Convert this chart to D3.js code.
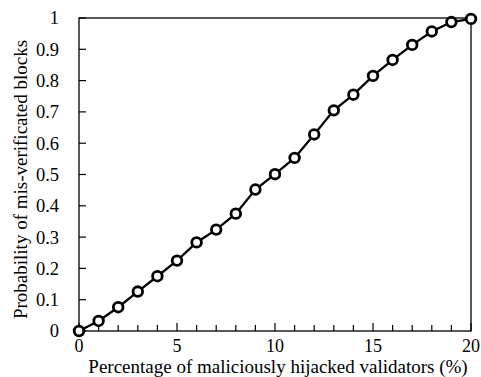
<!DOCTYPE html>
<html>
<head>
<meta charset="utf-8">
<script src="https://cdn.jsdelivr.net/npm/d3@7"></script>
<style>
  html, body { margin: 0; padding: 0; background: #fff; }
</style>
</head>
<body>
<div id="chart"></div>
<script>
// percentage of hijacked validators
const percentages = [0, 1, 2, 3, 4, 5, 6, 7, 8, 9, 10, 11, 12, 13, 14, 15, 16, 17, 18, 19, 20];
// probability of mis-verificated blocks
const probabilities = [0, 0.032, 0.076, 0.126, 0.175, 0.225, 0.283, 0.324, 0.375, 0.452, 0.501, 0.553, 0.628, 0.705, 0.755, 0.815, 0.866, 0.914, 0.957, 0.987, 0.997];
const xTicks = [0, 5, 10, 15, 20];
const yTicks = [0, 0.1, 0.2, 0.3, 0.4, 0.5, 0.6, 0.7, 0.8, 0.9, 1];

const width = 481, height = 377;
const margin = {top: 18, right: 10, bottom: 46, left: 79};
const serif = "'Liberation Serif', 'Times New Roman', Times, 'DejaVu Serif', serif";

const svg = d3.select("#chart").append("svg")
    .attr("width", width)
    .attr("height", height)
    .attr("font-family", serif);

const x = d3.scaleLinear().domain([0, 20]).range([margin.left, width - margin.right]);
const y = d3.scaleLinear().domain([0, 1]).range([height - margin.bottom, margin.top]);

// frame
svg.append("rect")
    .attr("x", x(0)).attr("y", y(1))
    .attr("width", x(20) - x(0)).attr("height", y(0) - y(1))
    .attr("fill", "none").attr("stroke", "#000").attr("stroke-width", 1.3);

// x axis: minor ticks every 1, inward
const xAxis = svg.append("g");
xAxis.selectAll("line")
    .data(d3.range(0, 21))
    .enter().append("line")
    .attr("x1", d => x(d)).attr("x2", d => x(d))
    .attr("y1", y(0))
    .attr("y2", d => y(0) - (d % 5 === 0 ? 8 : 6))
    .attr("stroke", "#000").attr("stroke-width", 1.2);
xAxis.selectAll("text")
    .data(xTicks)
    .enter().append("text")
    .attr("x", d => x(d))
    .attr("y", y(0) + 21)
    .attr("text-anchor", "middle")
    .attr("font-family", serif)
    .style("font-size", "18px")
    .text(d => d);

// y axis
const yAxis = svg.append("g");
yAxis.selectAll("line")
    .data(yTicks)
    .enter().append("line")
    .attr("x1", x(0)).attr("x2", x(0) + 7)
    .attr("y1", d => y(d)).attr("y2", d => y(d))
    .attr("stroke", "#000").attr("stroke-width", 1.2);
yAxis.selectAll("text")
    .data(yTicks)
    .enter().append("text")
    .attr("x", x(0) - 20)
    .attr("y", d => y(d))
    .attr("dy", "0.35em")
    .attr("text-anchor", "end")
    .attr("font-family", serif)
    .style("font-size", "18.5px")
    .text(d => d3.format("")(+d.toFixed(1)));

// titles
svg.append("text")
    .attr("x", (x(0) + x(20)) / 2 + 3)
    .attr("y", height - 4)
    .attr("text-anchor", "middle")
    .attr("font-family", serif)
    .style("font-size", "19px")
    .text("Percentage of maliciously hijacked validators (%)");

svg.append("text")
    .attr("transform", `translate(27,${(y(0) + y(1)) / 2 + 5}) rotate(-90)`)
    .attr("text-anchor", "middle")
    .attr("font-family", serif)
    .style("font-size", "19px")
    .text("Probability of mis-verificated blocks");

// series
const data = percentages.map((p, i) => ({p, v: probabilities[i]}));
const line = d3.line().x(d => x(d.p)).y(d => y(d.v));

svg.append("path")
    .datum(data)
    .attr("d", line)
    .attr("fill", "none")
    .attr("stroke", "#000")
    .attr("stroke-width", 2.3);

svg.append("g")
    .selectAll("circle")
    .data(data)
    .enter().append("circle")
    .attr("cx", d => x(d.p))
    .attr("cy", d => y(d.v))
    .attr("r", 4.8)
    .attr("fill", "#fff")
    .attr("stroke", "#000")
    .attr("stroke-width", 2.8);
</script>
</body>
</html>
